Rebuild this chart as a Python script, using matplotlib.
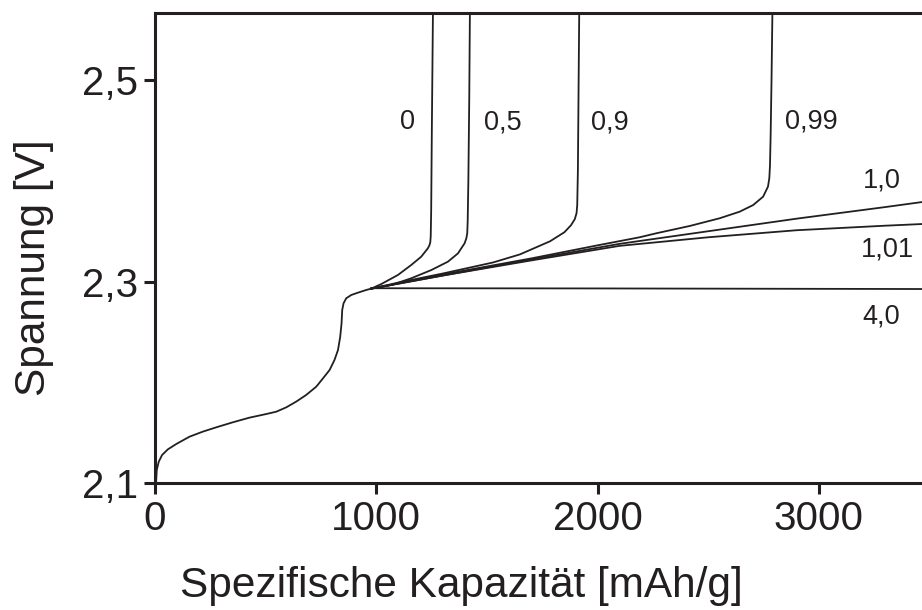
import matplotlib
matplotlib.use("Agg")
import matplotlib.pyplot as plt

plt.rcParams['font.family'] = ['Liberation Sans', 'DejaVu Sans']

INK = '#231f20'

# Shared discharge curve up to the branching point
base_x = [0, 5, 8, 17, 32, 58, 96, 156, 216, 277, 352, 427, 503, 548, 593, 638, 683, 729, 759, 789,
          811, 827, 837, 843, 846, 852, 864, 887, 917, 955, 977]
base_y = [2.100, 2.1013, 2.1129, 2.1212, 2.1278, 2.1334, 2.1387, 2.1460, 2.1510, 2.1553, 2.1603, 2.1649,
          2.1685, 2.1708, 2.1751, 2.1808, 2.1874, 2.1957, 2.2039, 2.2122, 2.2221, 2.2321, 2.2453, 2.2586,
          2.2718, 2.2784, 2.2834, 2.2867, 2.2890, 2.2917, 2.2930]

# Branches
b0_x = [977, 1023, 1098, 1158, 1203, 1233, 1240, 1244, 1246, 1248, 1251, 1256, 1258]
b0_y = [2.2930, 2.2976, 2.3066, 2.3165, 2.3247, 2.3330, 2.3360, 2.3390, 2.3450, 2.3700, 2.4500, 2.5670, 2.6000]

b05_x = [977, 1068, 1158, 1249, 1324, 1369, 1399, 1407, 1411, 1413, 1416, 1420, 1423, 1424]
b05_y = [2.2930, 2.2966, 2.3033, 2.3115, 2.3198, 2.3280, 2.3380, 2.3430, 2.3480, 2.3600, 2.4000, 2.4800,
         2.5670, 2.6000]

b09_x = [977, 1100, 1300, 1528, 1649, 1785, 1850, 1880, 1897, 1905, 1908, 1911, 1914, 1917, 1918]
b09_y = [2.2930, 2.2990, 2.3080, 2.3190, 2.3270, 2.3400, 2.3490, 2.3560, 2.3620, 2.3680, 2.3760, 2.4100,
         2.4900, 2.5670, 2.6000]

b099_x = [977, 1300, 1700, 2000, 2190, 2266, 2416, 2552, 2642, 2703, 2748, 2770, 2776, 2779, 2782,
          2786, 2790, 2792]
b099_y = [2.2930, 2.3070, 2.3230, 2.3360, 2.3440, 2.3480, 2.3552, 2.3629, 2.3694, 2.3760, 2.3843, 2.3943,
          2.4026, 2.4150, 2.4450, 2.5000, 2.5670, 2.6000]

b10_x = [977, 1300, 1700, 2100, 2500, 2900, 3300, 3500]
b10_y = [2.2930, 2.3060, 2.3220, 2.3375, 2.3500, 2.3625, 2.3740, 2.3800]

b101_x = [977, 1300, 1700, 2100, 2500, 2900, 3300, 3500]
b101_y = [2.2930, 2.3060, 2.3210, 2.3355, 2.3440, 2.3510, 2.3555, 2.3575]

b40_x = [977, 1500, 2000, 2500, 3000, 3500]
b40_y = [2.2934, 2.2933, 2.2932, 2.2930, 2.2928, 2.2926]

branch_labels = ['0', '0,5', '0,9', '0,99', '1,0', '1,01', '4,0']
label_x = [1143, 1573, 2056, 2966, 3285, 3312, 3281]
label_y = [2.4515, 2.4515, 2.4515, 2.4525, 2.393, 2.3254, 2.258]

x_ticks = [0, 1000, 2000, 3000]
y_ticks = [2.1, 2.3, 2.5]
y_ticklabels = ['2,1', '2,3', '2,5']

fig = plt.figure(figsize=(9.22, 6.10), dpi=100)
ax = fig.add_axes([155 / 922, 127 / 610, (922 - 155) / 922, (483 - 13) / 610])

lw = 1.3
ax.plot(base_x, base_y, color=INK, lw=lw, solid_joinstyle='round')
for xs, ys in [(b0_x, b0_y), (b05_x, b05_y), (b09_x, b09_y), (b099_x, b099_y),
               (b10_x, b10_y), (b101_x, b101_y), (b40_x, b40_y)]:
    ax.plot(xs, ys, color=INK, lw=lw, solid_joinstyle='round')

for t, lx, ly in zip(branch_labels, label_x, label_y):
    ax.text(lx, ly, t, ha='center', va='baseline', fontsize=19.5, color=INK)

ax.set_xlim(0, 3466)
ax.set_ylim(2.1, 2.5667)
ax.set_xticks(x_ticks)
ax.set_xticklabels([str(v) for v in x_ticks])
ax.set_yticks(y_ticks)
ax.set_yticklabels(y_ticklabels)

ax.spines['right'].set_visible(False)
for s in ['left', 'top', 'bottom']:
    ax.spines[s].set_linewidth(2.2)
    ax.spines[s].set_color(INK)

ax.tick_params(axis='both', direction='out', length=8, width=2.2, colors=INK,
               labelsize=29, labelcolor=INK)
ax.tick_params(axis='x', pad=4)
ax.tick_params(axis='y', pad=4)

ax.set_xlabel('Spezifische Kapazität [mAh/g]', fontsize=30.5, color=INK)
ax.set_ylabel('Spannung [V]', fontsize=30.5, color=INK)
ax.xaxis.set_label_coords((461 - 155) / 767, -(566 - 483) / 470)
ax.yaxis.set_label_coords(-(155 - 54) / 767, (483 - 268) / 470)

fig.savefig('out.png', dpi=100)
